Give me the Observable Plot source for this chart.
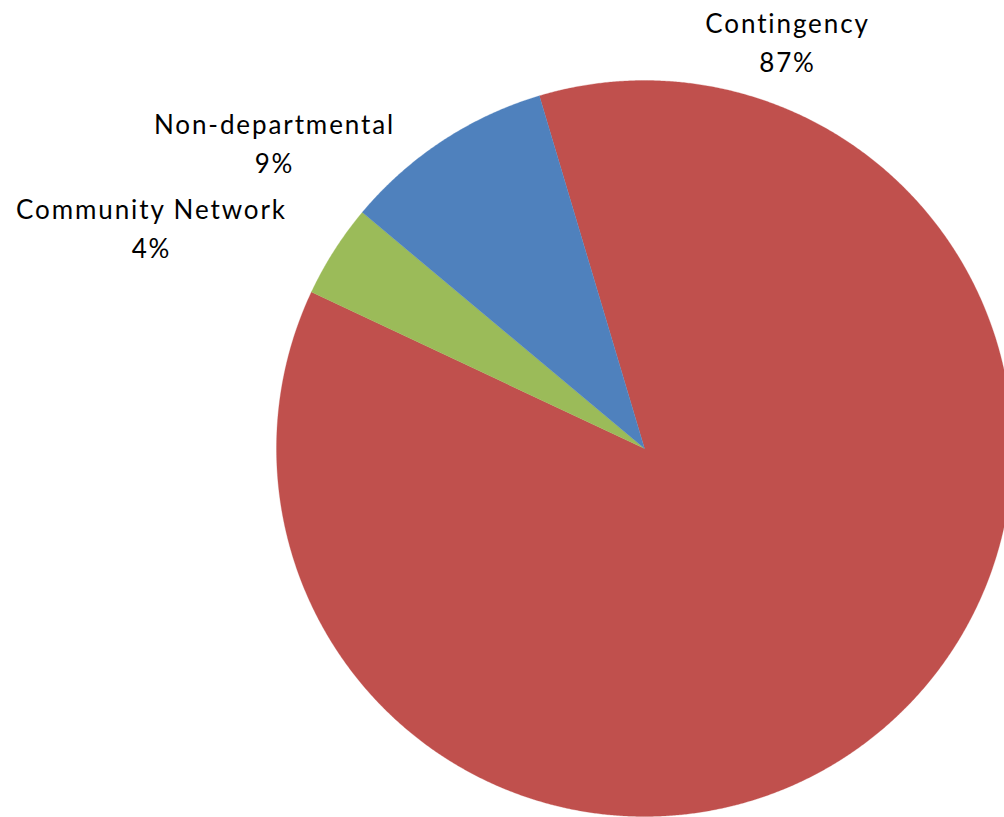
<!DOCTYPE html>
<html>
<head>
<meta charset="utf-8">
<script src="https://cdn.jsdelivr.net/npm/d3@7"></script>
<script src="https://cdn.jsdelivr.net/npm/@observablehq/plot@0.6"></script>
<style>
  html, body { margin: 0; padding: 0; background: #fff; }
  #chart svg { display: block; }
  #chart svg text { letter-spacing: 1.9px; }
</style>
</head>
<body>
<div id="chart"></div>
<script>
// ---- data ----
const categories = ["Contingency", "Community Network", "Non-departmental"];
const values = [86.6, 4.1, 9.3];
const labels = ["87%", "4%", "9%"];
const colors = ["#C0504D", "#9BBB59", "#4F81BD"];

// ---- layout ----
const W = 1004, H = 817;
const cx = 644, cy = 448, R = 368;
const startDeg = -16.6;
const labelPos = {
  "Contingency": [787, 32],
  "Community Network": [151, 218],
  "Non-departmental": [274, 133]
};
const lineGap = 39;

const pie = d3.pie().sort(null).value(d => d.value)
  .startAngle(startDeg * Math.PI / 180)
  .endAngle(startDeg * Math.PI / 180 + 2 * Math.PI);
const rows = categories.map((name, i) => ({name, value: values[i], label: labels[i]}));
const arcs = pie(rows);

const pts = [];
for (const a of arcs) {
  const n = Math.max(2, Math.ceil((a.endAngle - a.startAngle) / (Math.PI / 720)));
  pts.push({name: a.data.name, x: 0, y: 0});
  for (let k = 0; k <= n; k++) {
    const t = a.startAngle + (a.endAngle - a.startAngle) * k / n;
    pts.push({name: a.data.name, x: R * Math.sin(t), y: R * Math.cos(t)});
  }
  pts.push({name: a.data.name, x: 0, y: 0});
}

// label rows in the centred coordinate system (y up)
const textRows = rows.map(r => {
  const [px, py] = labelPos[r.name];
  return {name: r.name, label: r.label, x: px - cx, y: cy - py, y2: cy - py - lineGap};
});

const font = "Lato, 'Open Sans', sans-serif";
const chart = Plot.plot({
  width: W, height: H,
  margin: 0,
  x: {domain: [-cx, W - cx], range: [0, W], axis: null},
  y: {domain: [-(H - cy), cy], range: [H, 0], axis: null},
  color: {domain: categories, range: colors},
  style: {fontFamily: font, background: "white"},
  marks: [
    Plot.line(pts, {x: "x", y: "y", z: "name", fill: "name", stroke: "name", strokeWidth: 0.3, curve: "linear"}),
    Plot.text(textRows, {x: "x", y: "y", text: "name", textAnchor: "middle", lineAnchor: "bottom", fontSize: 26, fill: "black"}),
    Plot.text(textRows, {x: "x", y: "y2", text: "label", textAnchor: "middle", lineAnchor: "bottom", fontSize: 26, fill: "black"})
  ]
});
document.getElementById("chart").appendChild(chart);
</script>
</body>
</html>
